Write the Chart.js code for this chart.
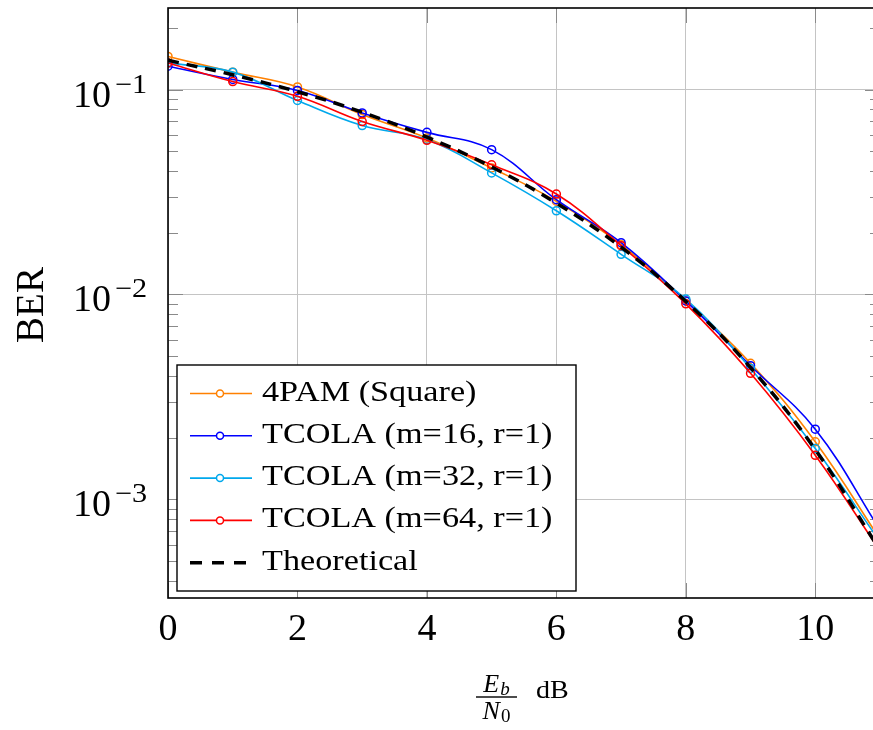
<!DOCTYPE html>
<html>
<head>
<meta charset="utf-8">
<script src="https://cdn.jsdelivr.net/npm/chart.js@4/dist/chart.umd.min.js"></script>
<style>
  html, body { margin: 0; padding: 0; background: #fff; overflow: hidden; }
  #wrap { width: 890px; height: 730px; position: relative; }
</style>
</head>
<body>
<div id="wrap"><canvas id="ber" width="890" height="730"></canvas></div>
<script>
// Eb/N0 in dB
const snrDb = [0, 1, 2, 3, 4, 5, 6, 7, 8, 9, 10, 11];

// Measured bit error rates
const berSquare = [0.145, 0.1216, 0.103, 0.0755, 0.058, 0.0414, 0.0285, 0.0175, 0.0093, 0.00461, 0.00191, 0.00064];
const berM16    = [0.130, 0.112, 0.099, 0.0769, 0.0618, 0.0509, 0.029, 0.0179, 0.0093, 0.00449, 0.0022, 0.00071];
const berM32    = [0.135, 0.1216, 0.0884, 0.0667, 0.057, 0.0392, 0.0256, 0.0157, 0.0095, 0.00435, 0.00177, 0.00062];
const berM64    = [0.1348, 0.1094, 0.0927, 0.0698, 0.0565, 0.0429, 0.0309, 0.0173, 0.0090, 0.00412, 0.00164, 0.00056];
const berTheory = [0.139, 0.118, 0.0976, 0.0775, 0.0586, 0.0419, 0.0279, 0.0170, 0.00925, 0.00439, 0.00175, 0.000565];

const seriesLabels = ['4PAM (Square)', 'TCOLA (m=16, r=1)', 'TCOLA (m=32, r=1)', 'TCOLA (m=64, r=1)', 'Theoretical'];
const seriesColors = ['#ff8000', '#0000ff', '#00a8ec', '#ff0000', '#000000'];

const xTickValues = [0, 2, 4, 6, 8, 10];
const yTickValues = [1e-3, 1e-2, 1e-1];
const yTickExponents = ['\u22123', '\u22122', '\u22121'];

const SERIF = '"Liberation Serif", "Times New Roman", serif';

const toPoints = arr => snrDb.map((x, i) => ({ x: x, y: arr[i] }));

function measuredSet(idx, values, order) {
  return {
    label: seriesLabels[idx],
    data: toPoints(values),
    borderColor: seriesColors[idx],
    borderWidth: 1.6,
    tension: 0.4,
    pointStyle: 'circle',
    pointRadius: 4,
    pointBorderWidth: 1.5,
    pointBorderColor: seriesColors[idx],
    pointBackgroundColor: 'rgba(0,0,0,0)',
    fill: false,
    order: order
  };
}

const datasets = [
  measuredSet(0, berSquare, 4),
  measuredSet(1, berM16, 3),
  measuredSet(2, berM32, 2),
  measuredSet(3, berM64, 1),
  {
    label: seriesLabels[4],
    data: toPoints(berTheory),
    borderColor: seriesColors[4],
    borderWidth: 3.5,
    borderDash: [11, 8],
    tension: 0.4,
    pointRadius: 0,
    fill: false,
    order: 0
  }
];

// Draws text stretched horizontally by sx, starting at x
function wideText(ctx, text, x, y, sx) {
  ctx.save();
  ctx.translate(x, y);
  ctx.scale(sx, 1);
  ctx.fillText(text, 0, 0);
  ctx.restore();
}

// Axis frame, inward ticks, log tick labels, axis titles and boxed legend
const decor = {
  id: 'decor',
  beforeDatasetsDraw(chart) {
    const ctx = chart.ctx, a = chart.chartArea;
    const xs = chart.scales.x, ys = chart.scales.y;
    ctx.save();
    ctx.strokeStyle = '#8a8a8a';
    ctx.lineWidth = 1;
    ctx.beginPath();
    xTickValues.forEach(v => {
      const px = Math.round(xs.getPixelForValue(v)) + 0.5;
      ctx.moveTo(px, a.top); ctx.lineTo(px, a.top + 15);
      ctx.moveTo(px, a.bottom); ctx.lineTo(px, a.bottom - 15);
    });
    for (let d = -4; d <= 0; d++) {
      for (let m = 1; m <= 9; m++) {
        const v = m * Math.pow(10, d);
        if (v < ys.min || v > ys.max) continue;
        const py = Math.round(ys.getPixelForValue(v)) + 0.5;
        const len = m === 1 ? 15 : 10;
        ctx.moveTo(a.left, py); ctx.lineTo(a.left + len, py);
        ctx.moveTo(a.right, py); ctx.lineTo(a.right - len, py);
      }
    }
    ctx.stroke();
    ctx.restore();
  },
  afterDatasetsDraw(chart) {
    const ctx = chart.ctx, a = chart.chartArea;
    ctx.save();
    ctx.strokeStyle = '#000';
    ctx.lineWidth = 1.6;
    ctx.strokeRect(a.left, a.top, a.right - a.left, a.bottom - a.top);
    ctx.restore();
  },
  afterDraw(chart) {
    const ctx = chart.ctx;
    const ys = chart.scales.y;
    ctx.save();
    ctx.fillStyle = '#000';
    ctx.textBaseline = 'alphabetic';
    ctx.textAlign = 'left';

    // y tick labels 10^n
    yTickValues.forEach((v, i) => {
      const py = ys.getPixelForValue(v);
      ctx.font = '38px ' + SERIF;
      ctx.fillText('10', 73, py + 17);
      const w = ctx.measureText('10').width;
      ctx.font = '27px ' + SERIF;
      wideText(ctx, yTickExponents[i], 73 + w + 4, py + 3, 1.12);
    });

    // y axis title
    ctx.save();
    ctx.translate(43, 305);
    ctx.rotate(-Math.PI / 2);
    ctx.textAlign = 'center';
    ctx.font = '39px ' + SERIF;
    ctx.fillText('BER', 0, 0);
    ctx.restore();

    // x axis title: Eb/N0 dB
    const xc = 496.5, bar = 697;
    ctx.font = 'italic 26px ' + SERIF;
    const wE = ctx.measureText('E').width, wN = ctx.measureText('N').width;
    ctx.font = 'italic 19px ' + SERIF;
    const wb = ctx.measureText('b').width;
    ctx.font = '19px ' + SERIF;
    const w0 = ctx.measureText('0').width;
    const numW = wE + wb + 1, denW = wN + w0 + 1;
    let sx = xc - numW / 2;
    ctx.font = 'italic 26px ' + SERIF;
    ctx.fillText('E', sx, 692);
    ctx.font = 'italic 19px ' + SERIF;
    ctx.fillText('b', sx + wE + 1, 695);
    sx = xc - denW / 2;
    ctx.font = 'italic 26px ' + SERIF;
    ctx.fillText('N', sx, 719);
    ctx.font = '19px ' + SERIF;
    ctx.fillText('0', sx + wN + 1, 722);
    ctx.fillRect(476, bar - 0.7, 41, 1.4);
    ctx.font = '26px ' + SERIF;
    wideText(ctx, 'dB', 536, 698, 1.08);

    // legend box
    const bx = 177, by = 365, bw = 399, bh = 226;
    ctx.fillStyle = '#fff';
    ctx.fillRect(bx, by, bw, bh);
    ctx.strokeStyle = '#000';
    ctx.lineWidth = 1.4;
    ctx.strokeRect(bx, by, bw, bh);
    chart.data.datasets.forEach((ds, i) => {
      const ry = 393.5 + i * 42.3;
      ctx.save();
      ctx.strokeStyle = ds.borderColor;
      if (ds.borderDash) {
        ctx.lineWidth = 3.5;
        ctx.setLineDash([12, 10]);
      } else {
        ctx.lineWidth = 1.6;
      }
      ctx.beginPath();
      ctx.moveTo(190, ry); ctx.lineTo(252, ry);
      ctx.stroke();
      ctx.setLineDash([]);
      if (ds.pointRadius) {
        ctx.lineWidth = 1.5;
        ctx.fillStyle = '#fff';
        ctx.beginPath();
        ctx.arc(220, ry, 3.5, 0, Math.PI * 2);
        ctx.fill();
        ctx.stroke();
      }
      ctx.restore();
      ctx.fillStyle = '#000';
      ctx.font = '29px ' + SERIF;
      wideText(ctx, ds.label, 262, ry + 7, 1.18);
    });
    ctx.restore();
  }
};

new Chart(document.getElementById('ber'), {
  type: 'line',
  data: { datasets: datasets },
  options: {
    responsive: false,
    animation: false,
    devicePixelRatio: 1,
    layout: { padding: { top: 8, right: 10, left: 0, bottom: 0 } },
    plugins: { legend: { display: false }, tooltip: { enabled: false } },
    scales: {
      x: {
        type: 'linear',
        min: 0,
        max: 11,
        afterBuildTicks: s => { s.ticks = xTickValues.map(v => ({ value: v })); },
        afterFit: s => { s.height = 132; },
        grid: { color: '#c4c4c4', lineWidth: 1, drawTicks: false },
        border: { display: false },
        ticks: {
          font: { family: SERIF, size: 38 },
          color: '#000',
          padding: 9,
          maxRotation: 0,
          autoSkip: false,
          callback: v => String(v)
        }
      },
      y: {
        type: 'logarithmic',
        bounds: 'data',
        min: 3.3e-4,
        max: 0.25,
        afterBuildTicks: s => { s.ticks = yTickValues.map(v => ({ value: v })); },
        afterFit: s => { s.width = 168; },
        grid: { color: '#c4c4c4', lineWidth: 1, drawTicks: false },
        border: { display: false },
        ticks: { display: false }
      }
    }
  },
  plugins: [decor]
});
</script>
</body>
</html>
